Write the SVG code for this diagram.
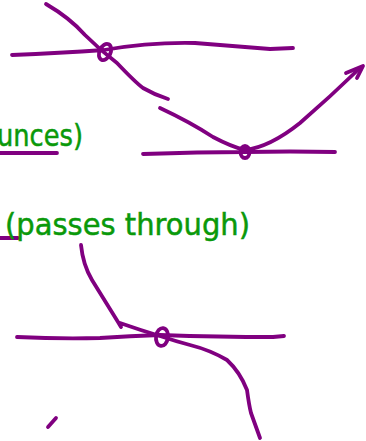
<svg xmlns="http://www.w3.org/2000/svg" width="366" height="441" viewBox="0 0 366 441">
<style>
.ink{fill:none;stroke:#800080;stroke-width:3.8;stroke-linecap:round;stroke-linejoin:round}
.lbl{fill:#0a990a;stroke:#0a990a;stroke-width:0.5;font-family:"DejaVu Sans","Liberation Sans",sans-serif;font-size:30px}
</style>
<rect width="366" height="441" fill="#ffffff"/>
<g id="connectors">
<path class="ink" d="M12,55 Q60,53 104,50 Q150,42 195,43 Q245,47 270,49 L293,48"/>
<path class="ink" d="M46,4 Q70,18 85,35 Q100,50 117,63 Q135,82 143,88 Q155,95 168,99"/>
<path class="ink" d="M160,108 Q190,122 213,137 Q232,147 245,150 Q270,147 300,123 Q330,97 360,68"/>
<path class="ink" d="M346,73 L363,66 L357,78"/>
<path class="ink" d="M143,154 Q200,152 245,152 Q290,151 335,152"/>
<path class="ink" d="M0,153 L57,153"/>
<path class="ink" d="M0,238 L18,238"/>
<path class="ink" d="M81,245 Q83,265 92,280 L118,322 L121,327 M120,323 Q140,330 160,336 Q175,341 190,345 Q210,350 227,360 Q240,372 247,390 Q249,405 251,413 L260,438"/>
<path class="ink" d="M17,337 Q60,339 100,338 Q130,336 160,335 Q220,337 273,337 L284,336"/>
<path class="ink" d="M48,427 L56,418"/>
</g>
<g id="node-top">
<ellipse class="ink" cx="105" cy="52" rx="5.5" ry="8.5" transform="rotate(25 105 52)"/>
</g>
<g id="node-bounce">
<ellipse class="ink" cx="245" cy="152" rx="4.5" ry="6" stroke-width="5"/>
</g>
<g id="node-pass">
<ellipse class="ink" cx="162" cy="337" rx="6" ry="9" transform="rotate(8 162 337)"/>
</g>
<g id="labels">
<text class="lbl" x="-3" y="146" textLength="86" lengthAdjust="spacingAndGlyphs">unces)</text>
<text class="lbl" x="5" y="235" textLength="245" lengthAdjust="spacingAndGlyphs">(passes through)</text>
</g>
</svg>
